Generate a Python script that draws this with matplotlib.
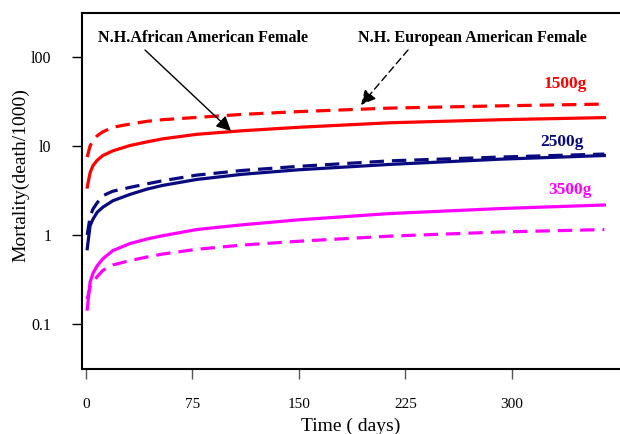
import matplotlib
matplotlib.use("Agg")
import matplotlib.pyplot as plt

plt.rcParams['font.family'] = ['Liberation Serif', 'DejaVu Serif']

days = [1, 3, 5, 8, 12, 19, 31, 43, 54, 78, 110, 150, 214, 292, 365]

# N.H. African American Female (solid)
aa_1500 = [3.45, 5.0, 6.0, 6.9, 7.8, 8.8, 10.1, 11.1, 12.0, 13.5, 14.8, 16.2, 18.2, 19.7, 20.8]
aa_2500 = [0.70, 1.27, 1.5, 1.8, 2.05, 2.42, 2.85, 3.27, 3.6, 4.2, 4.8, 5.4, 6.2, 7.1, 7.8]
aa_3500 = [0.147, 0.295, 0.37, 0.45, 0.54, 0.667, 0.80, 0.90, 0.98, 1.15, 1.3, 1.48, 1.74, 1.98, 2.17]

# N.H. European American Female (dashed)
ea_1500 = [7.5, 10.0, 11.5, 13.0, 14.4, 16.2, 17.6, 18.9, 19.7, 20.9, 22.6, 24.3, 26.6, 28.2, 29.5]
ea_2500 = [1.0, 1.6, 1.95, 2.3, 2.76, 3.1, 3.42, 3.75, 4.06, 4.7, 5.3, 5.9, 6.8, 7.5, 8.1]
ea_3500 = [0.19, 0.26, 0.295, 0.34, 0.40, 0.46, 0.515, 0.565, 0.61, 0.69, 0.77, 0.85, 0.97, 1.08, 1.15]

red = '#ff0000'
navy = '#0a0a80'
magenta = '#ff00ff'

H = 434  # figure height in pixels, for placing text from the top

fig = plt.figure(figsize=(6.2, 4.34), dpi=100)
ax = fig.add_axes([0.132, 0.15, 0.868, 0.82])

dash = (0, (4.5, 2.5))
ax.plot(days, aa_1500, color=red, linewidth=2.3)
ax.plot(days, ea_1500, color=red, linewidth=2.3, linestyle=dash)
ax.plot(days, aa_2500, color=navy, linewidth=2.3)
ax.plot(days, ea_2500, color=navy, linewidth=2.3, linestyle=dash)
ax.plot(days, aa_3500, color=magenta, linewidth=2.3)
ax.plot(days, ea_3500, color=magenta, linewidth=2.3, linestyle=dash)

ax.set_yscale('log')
ax.set_ylim(0.0313, 311)
ax.set_xlim(-2.8, 376)
ax.set_yticks([0.1, 1, 10, 100])
ax.set_yticklabels(['0.1', '1', 'l0', 'l00'])
ax.minorticks_off()
ax.set_xticks([0, 75, 150, 225, 300])
ax.tick_params(axis='y', direction='out', length=7, width=1, labelsize=11.5, pad=15)
ax.tick_params(axis='x', direction='out', length=7, width=1, color='#555555',
               labelsize=11, pad=14)

for s in ['left', 'top', 'bottom']:
    ax.spines[s].set_linewidth(1.5)
ax.spines['right'].set_visible(False)

ax.set_xlabel('Time ( days)', fontsize=14, labelpad=5)
ax.set_ylabel('Mortality(death/1000)', fontsize=14)
ax.yaxis.set_label_coords(-0.097, 0.545)

fp = 'figure pixels'
ax.annotate('1500g', xy=(565, H - 84), xycoords=fp, color=red, fontsize=12.5,
            fontweight='bold', ha='center', va='center')
ax.annotate('2500g', xy=(562, H - 142), xycoords=fp, color=navy, fontsize=12.5,
            fontweight='bold', ha='center', va='center')
ax.annotate('3500g', xy=(570, H - 190), xycoords=fp, color=magenta, fontsize=12.5,
            fontweight='bold', ha='center', va='center')

ax.annotate('N.H.African American Female', xy=(98, H - 38), xycoords=fp,
            fontsize=11.6, fontweight='bold', ha='left', va='center')
ax.annotate('N.H. European American Female', xy=(358, H - 38), xycoords=fp,
            fontsize=11.6, fontweight='bold', ha='left', va='center')
ax.annotate('', xy=(231, H - 131), xytext=(145, H - 50), xycoords=fp, textcoords=fp,
            arrowprops=dict(arrowstyle='-|>', color='black', lw=1,
                            mutation_scale=22, shrinkA=0, shrinkB=0))
ax.annotate('', xy=(361, H - 105), xytext=(408, H - 50), xycoords=fp, textcoords=fp,
            arrowprops=dict(arrowstyle='-|>', color='black', lw=1,
                            linestyle=(0, (5, 3)), mutation_scale=22,
                            shrinkA=0, shrinkB=0))

fig.savefig('out.png', dpi=100)
